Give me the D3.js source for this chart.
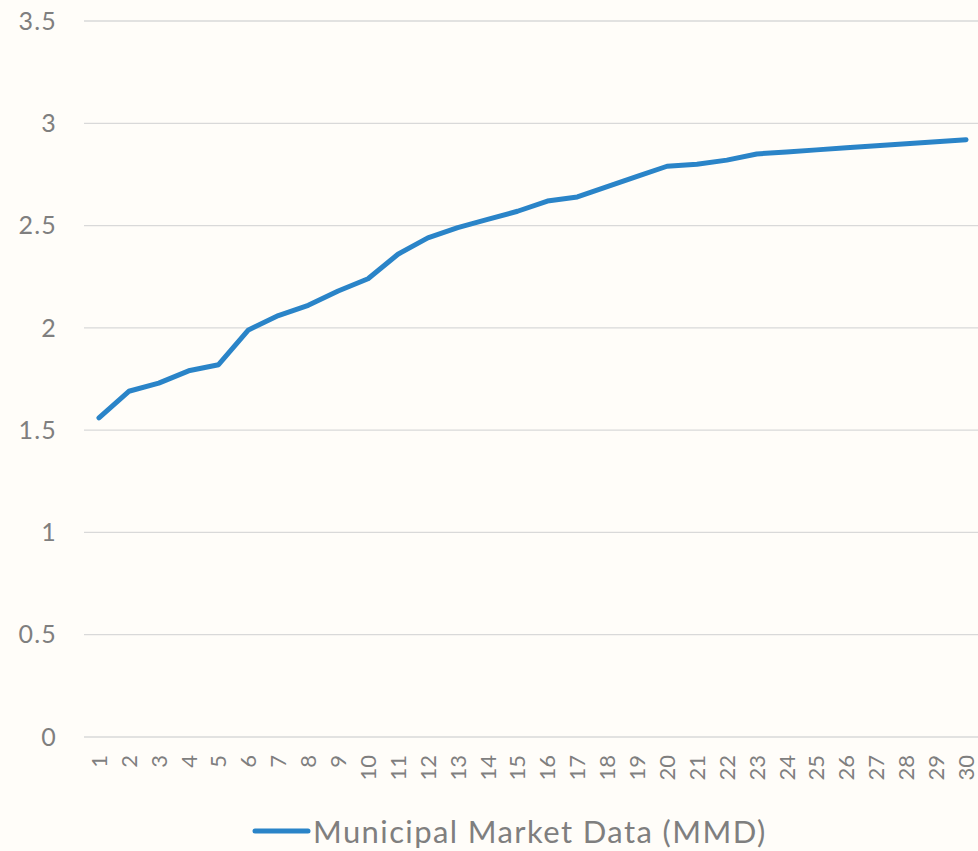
<!DOCTYPE html>
<html><head><meta charset="utf-8">
<script src="https://cdn.jsdelivr.net/npm/d3@7"></script>
<style>html,body{margin:0;padding:0;background:#fffdf9;}svg{display:block;}</style>
</head><body>
<script>
const categories = ["1","2","3","4","5","6","7","8","9","10","11","12","13","14","15","16","17","18","19","20","21","22","23","24","25","26","27","28","29","30"];
const mmdValues = [1.56,1.69,1.73,1.79,1.82,1.99,2.06,2.11,2.18,2.24,2.36,2.44,2.49,2.53,2.57,2.62,2.64,2.69,2.74,2.79,2.80,2.82,2.85,2.86,2.87,2.88,2.89,2.90,2.91,2.92];
const yTicks = [0,0.5,1,1.5,2,2.5,3,3.5];
const seriesName = "Municipal Market Data (MMD)";

const W = 978, H = 851;
const svg = d3.select("body").append("svg").attr("width", W).attr("height", H);
svg.append("rect").attr("width", W).attr("height", H).attr("fill", "#fffdf9");
const font = "Lato, 'Open Sans', sans-serif";
const pLeft = 84, pRight = 981, pTop = 21, pBottom = 737;
const x = d3.scaleBand().domain(categories).range([pLeft, pRight]);
const y = d3.scaleLinear().domain([0, 3.5]).range([pBottom, pTop]);

// gridlines
svg.append("g").selectAll("line").data(yTicks).join("line")
  .attr("x1", pLeft).attr("x2", W).attr("y1", d => y(d)).attr("y2", d => y(d))
  .attr("stroke", "#d9d9d9").attr("stroke-width", 1.3);

// y labels
svg.append("g").selectAll("text").data(yTicks).join("text")
  .attr("x", 57).attr("y", d => y(d)).attr("dy", "0.35em")
  .attr("text-anchor", "end").attr("fill", "#7f7f7f")
  .attr("font-family", font).attr("font-size", 25).attr("letter-spacing", 1.2)
  .text(d => d);

// x labels rotated
svg.append("g").selectAll("text").data(categories).join("text")
  .attr("transform", d => `translate(${x(d) + x.bandwidth()/2},755) rotate(-90)`)
  .attr("text-anchor", "end").attr("dy", "0.36em").attr("fill", "#7f7f7f")
  .attr("font-family", font).attr("font-size", 22)
  .text(d => d);

// line
const line = d3.line().x((d, i) => x(categories[i]) + x.bandwidth()/2).y(d => y(d));
svg.append("path").datum(mmdValues).attr("d", line)
  .attr("fill", "none").attr("stroke", "#2a84c8").attr("stroke-width", 5)
  .attr("stroke-linejoin", "round").attr("stroke-linecap", "round");

// legend
svg.append("line").attr("x1", 255).attr("x2", 308).attr("y1", 831).attr("y2", 831)
  .attr("stroke", "#2a84c8").attr("stroke-width", 5).attr("stroke-linecap", "round");
svg.append("text").attr("x", 313).attr("y", 832).attr("dy", "0.35em")
  .attr("fill", "#7f7f7f").attr("font-family", font).attr("font-size", 31)
  .attr("letter-spacing", 1.4)
  .text(seriesName);
</script>
</body></html>
